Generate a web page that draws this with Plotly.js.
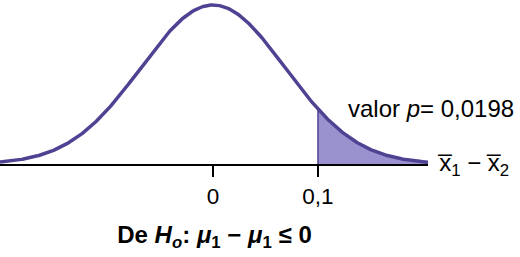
<!DOCTYPE html>
<html>
<head>
<meta charset="utf-8">
<script src="https://cdn.plot.ly/plotly-3.0.1.min.js"></script>
<style>html,body{margin:0;padding:0;background:#fff;}#chart{width:520px;height:257px;}</style>
</head>
<body>
<div id="chart"></div>
<script>
// Distribution model as drawn (centre and spread)
const distMean = 0;
const distSd = 0.0686;
const xRange = [-0.2029, 0.2048];
const criticalValue = 0.1;
const tickValues = [0, 0.1];
const tickLabels = ["0", "0,1"];
const pValueText = "valor <i>p</i>= 0,0198";
const axisLabel = "x\u0305<sub>1</sub> \u2212 x\u0305<sub>2</sub>";
const titleText = "<b>De <i>H<sub>o</sub></i>: <i>\u03bc</i><sub>1</sub> \u2212 <i>\u03bc</i><sub>1</sub> \u2264 0</b>";

const lineColor = "#4E4393";
const fillColor = "#9A91CF";
const font = "Liberation Sans, Arial, sans-serif";

function pdf(x) {
  const z = (x - distMean) / distSd;
  return Math.exp(-0.5 * z * z) / (distSd * Math.sqrt(2 * Math.PI));
}
const N = 400;
const cx = [], cy = [];
for (let i = 0; i <= N; i++) {
  const x = xRange[0] + (xRange[1] - xRange[0]) * i / N;
  cx.push(x); cy.push(pdf(x));
}
const sx = [criticalValue], sy = [0];
for (let i = 0; i <= N; i++) {
  const x = criticalValue + (xRange[1] - criticalValue) * i / N;
  sx.push(x); sy.push(pdf(x));
}
sx.push(xRange[1]); sy.push(0);
const peak = pdf(distMean);

const traces = [
  {x: sx, y: sy, mode: "lines", fill: "toself", fillcolor: fillColor,
   line: {width: 0, color: fillColor}, hoverinfo: "skip"},
  {x: [criticalValue, criticalValue], y: [0, pdf(criticalValue)], mode: "lines",
   line: {width: 1.5, color: lineColor}, hoverinfo: "skip"},
  {x: cx, y: cy, mode: "lines", line: {width: 3.5, color: lineColor},
   cliponaxis: false, hoverinfo: "skip"}
];

const layout = {
  width: 520, height: 257,
  margin: {l: 0, r: 92, t: 3, b: 93, pad: 0},
  showlegend: false,
  paper_bgcolor: "#fff", plot_bgcolor: "#fff",
  font: {family: font, size: 22, color: "#000"},
  title: {text: titleText, x: 0.4125, y: 0.088, xanchor: "center", yanchor: "middle",
          xref: "container", yref: "container", font: {family: font, size: 24, color: "#000"}},
  xaxis: {range: xRange, showgrid: false, zeroline: false, showline: true,
          linecolor: "#000", linewidth: 2, ticks: "outside", ticklen: 11, tickwidth: 2,
          tickcolor: "#000", tickvals: tickValues, ticktext: tickLabels,
          tickfont: {family: font, size: 22.5, color: "#000"}, fixedrange: true},
  yaxis: {range: [0, peak * 1.0126], visible: false, fixedrange: true},
  annotations: [
    {text: pValueText, xref: "paper", yref: "paper", x: 346 / 428, y: (164 - 108) / 161,
     xanchor: "left", yanchor: "middle", showarrow: false,
     font: {family: font, size: 24, color: "#000"}},
    {text: axisLabel, xref: "paper", yref: "paper", x: 436 / 428, y: (164 - 164) / 161,
     xanchor: "left", yanchor: "middle", showarrow: false,
     font: {family: font, size: 24, color: "#000"}}
  ]
};

Plotly.newPlot("chart", traces, layout, {displayModeBar: false, staticPlot: true});
</script>
</body>
</html>
